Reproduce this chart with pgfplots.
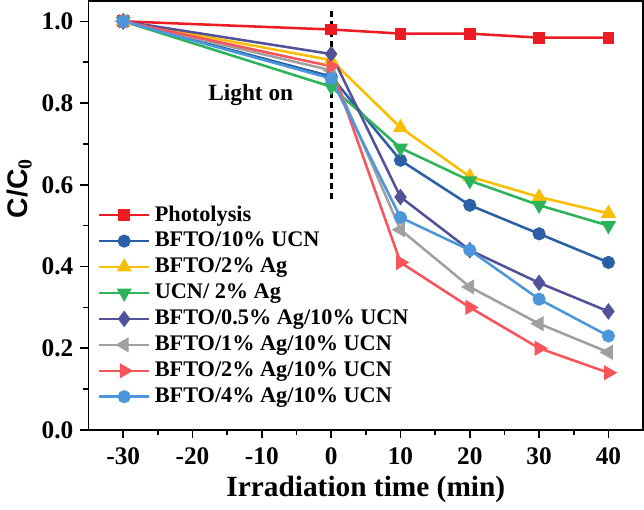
\documentclass[border=0pt]{standalone}
\usepackage{pgfplots}
\pgfplotsset{compat=1.18}
\usepackage{fontspec}
\setmainfont{Liberation Serif}
\newfontfamily\arialfont{Liberation Sans}

\definecolor{cPhoto}{RGB}{237,28,36}
\definecolor{cUCN}{RGB}{43,95,166}
\definecolor{cAg}{RGB}{250,190,0}
\definecolor{cUAg}{RGB}{45,180,90}
\definecolor{cHalf}{RGB}{82,82,154}
\definecolor{cOne}{RGB}{160,160,160}
\definecolor{cTwo}{RGB}{248,84,90}
\definecolor{cFour}{RGB}{76,150,220}

\begin{document}
\begin{tikzpicture}
\begin{axis}[
    width=274pt, height=212pt,
    scale only axis,
    xmin=-35, xmax=45,
    ymin=0, ymax=1.05,
    xtick={-30,-20,...,40},
    minor x tick num=1,
    ytick={0,0.2,...,1.0},
    minor y tick num=1,
    tick align=outside,
    xtick pos=bottom, ytick pos=left,
    major tick length=4pt, minor tick length=2.5pt,
    axis line style={line width=0.9pt},
    every tick/.style={black, line width=0.8pt},
    /pgf/number format/assume math mode=true,
    yticklabel style={/pgf/number format/.cd, fixed, fixed zerofill, precision=1},
    ticklabel style={font=\fontsize{12.5}{14}\selectfont\bfseries},
    xticklabel style={yshift=-1pt},
    xlabel={Irradiation time (min)},
    xlabel style={font=\fontsize{14.5}{16}\selectfont\bfseries, yshift=1pt},
    ylabel={C/C$_\mathbf{0}$},
    ylabel style={font=\fontsize{14}{16}\selectfont\arialfont\bfseries,
        at={(ticklabel cs:0.563)}, yshift=-2pt},
    legend style={draw=none, fill=none, at={(0.012,0.538)}, anchor=north west,
        font=\fontsize{11}{13}\selectfont\bfseries, row sep=0pt,
        inner sep=1pt},
    legend cell align=left,
    legend image code/.code={
        \draw[mark repeat=2,mark phase=2] plot coordinates {(0pt,0pt) (12.5pt,0pt) (25pt,0pt)};
    },
    every axis plot/.append style={line width=1.25pt, mark size=2.6pt},
]

\addplot[color=cPhoto, mark=square*, mark size=2.3pt] coordinates {
    (-30,1.00) (0,0.98) (10,0.97) (20,0.97) (30,0.96) (40,0.96)
};
\addplot[color=cUCN, mark=*] coordinates {
    (-30,1.00) (0,0.865) (10,0.66) (20,0.55) (30,0.48) (40,0.41)
};
\addplot[color=cAg, mark=triangle*, mark size=3.1pt] coordinates {
    (-30,1.00) (0,0.905) (10,0.74) (20,0.62) (30,0.57) (40,0.53)
};
\addplot[color=cUAg, mark=triangle*, mark size=3.1pt, mark options={rotate=180}] coordinates {
    (-30,1.00) (0,0.84) (10,0.69) (20,0.61) (30,0.55) (40,0.50)
};
\addplot[color=cHalf, mark=diamond*, mark size=3.1pt] coordinates {
    (-30,1.00) (0,0.92) (10,0.57) (20,0.44) (30,0.36) (40,0.29)
};
\addplot[color=cOne, mark=triangle*, mark size=3.1pt, mark options={rotate=90}] coordinates {
    (-30,1.00) (0,0.88) (10,0.49) (20,0.35) (30,0.26) (40,0.19)
};
\addplot[color=cTwo, mark=triangle*, mark size=3.1pt, mark options={rotate=-90}] coordinates {
    (-30,1.00) (0,0.89) (10,0.41) (20,0.30) (30,0.20) (40,0.14)
};
\addplot[color=cFour, mark=*] coordinates {
    (-30,1.00) (0,0.86) (10,0.52) (20,0.44) (30,0.32) (40,0.23)
};

\addplot[forget plot, black, line width=1.4pt, dash pattern=on 3pt off 2pt, mark=none] coordinates {
    (0,0.565) (0,1.025)
};
\node[font=\fontsize{11.5}{13}\selectfont\bfseries] at (axis cs:-11.6,0.82) {Light on};

\legend{Photolysis, BFTO/10\% UCN, BFTO/2\% Ag, UCN/ 2\% Ag,
    BFTO/0.5\% Ag/10\% UCN, BFTO/1\% Ag/10\% UCN,
    BFTO/2\% Ag/10\% UCN, BFTO/4\% Ag/10\% UCN}
\end{axis}
\end{tikzpicture}
\end{document}
